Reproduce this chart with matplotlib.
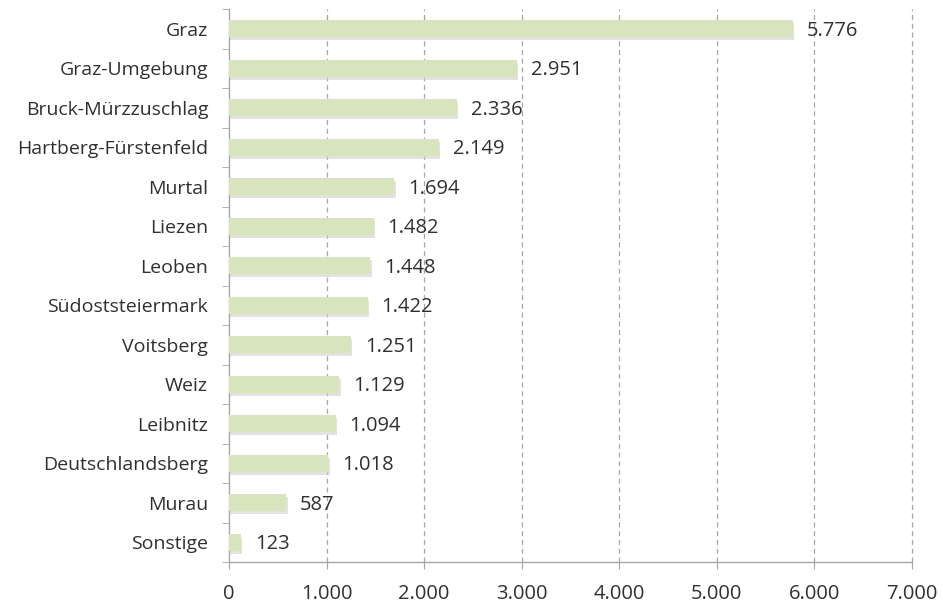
import matplotlib.pyplot as plt
import matplotlib.patheffects as pe
from matplotlib.ticker import FuncFormatter

regions = ['Graz', 'Graz-Umgebung', 'Bruck-Mürzzuschlag', 'Hartberg-Fürstenfeld',
           'Murtal', 'Liezen', 'Leoben', 'Südoststeiermark', 'Voitsberg', 'Weiz',
           'Leibnitz', 'Deutschlandsberg', 'Murau', 'Sonstige']
counts = [5776, 2951, 2336, 2149, 1694, 1482, 1448, 1422, 1251, 1129,
          1094, 1018, 587, 123]
x_ticks = [0, 1000, 2000, 3000, 4000, 5000, 6000, 7000]

plt.rcParams['font.family'] = ['Open Sans', 'DejaVu Sans']


def de_thousands(v, pos=None):
    # German style thousands separator
    return f'{int(round(v)):,}'.replace(',', '.')


fig = plt.figure(figsize=(9.43, 6.05), dpi=100)
ax = fig.add_axes([229 / 943, 1 - 562 / 605, 683 / 943, 553 / 605])

ypos = list(range(len(regions)))
bars = ax.barh(ypos, counts, height=0.43, color='#d7e4bd', zorder=3)
for b in bars:
    b.set_path_effects([pe.SimplePatchShadow(offset=(1, -2), shadow_rgbFace='#d0d0d0', alpha=0.6),
                        pe.Normal()])

for y, v in zip(ypos, counts):
    ax.annotate(de_thousands(v), (v, y), xytext=(10, -1.5), textcoords='offset points',
                va='center', ha='left', fontsize=14.5, color='#303030', zorder=4)

ax.set_ylim(len(regions) - 0.5, -0.5)
ax.set_yticks(ypos)
ax.set_yticklabels(regions, fontsize=14, color='#303030')
ax.set_yticks([i - 0.5 for i in range(len(regions) + 1)], minor=True)
ax.tick_params(axis='y', which='major', length=0, pad=15)
ax.tick_params(axis='y', which='minor', length=5, color='#a6a6a6', direction='out')

ax.set_xlim(0, 7000)
ax.set_xticks(x_ticks)
ax.xaxis.set_major_formatter(FuncFormatter(de_thousands))
ax.tick_params(axis='x', length=5, color='#a6a6a6', labelsize=14.5, labelcolor='#303030', pad=11)

# dashed vertical gridlines, the one at the right edge must not be clipped
for xv in x_ticks[1:]:
    ax.axvline(xv, color='#a6a6a6', linestyle=(0, (4, 3)), linewidth=0.9, zorder=0, clip_on=False)

for side in ['top', 'right']:
    ax.spines[side].set_visible(False)
for side in ['left', 'bottom']:
    ax.spines[side].set_color('#a6a6a6')
    ax.spines[side].set_linewidth(1)

fig.savefig('out.png', dpi=100)
